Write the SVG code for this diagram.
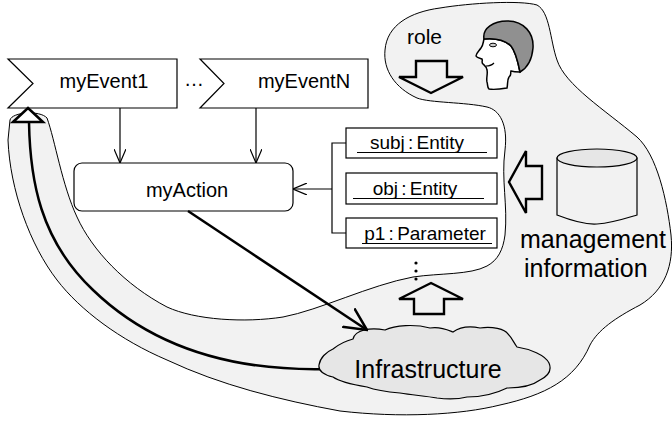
<svg xmlns="http://www.w3.org/2000/svg" width="672" height="422" viewBox="0 0 672 422">
  <style>
    .lbl { font-family: "Liberation Sans", Arial, sans-serif; font-size: 20px; fill: #000; }
    .big { font-size: 25px; }
    .attr { font-size: 19px; word-spacing: -2px; }
    .box { fill: #fff; stroke: #000; stroke-width: 1.2; }
    .thin { fill: none; stroke: #000; stroke-width: 1.2; }
    .bold { fill: none; stroke: #000; stroke-width: 2.5; }
    .block { fill: none; stroke: #000; stroke-width: 2.4; stroke-linejoin: miter; }
  </style>
  <defs>
    <marker id="open" viewBox="0 0 14 12" refX="14" refY="6" markerWidth="14" markerHeight="12" markerUnits="userSpaceOnUse" orient="auto">
      <path d="M0,0 L14,6 L0,12" fill="none" stroke="#000" stroke-width="1.2"/>
    </marker>
    <marker id="openBold" viewBox="0 0 24 24" refX="22.5" refY="12" markerWidth="24" markerHeight="24" markerUnits="userSpaceOnUse" orient="auto">
      <path d="M0,1 L22.5,12 L0,23" fill="none" stroke="#000" stroke-width="2.5"/>
    </marker>
  </defs>

  <!-- management domain: shaded region with the feedback band -->
  <g id="domain">
    <path d="M 10,120 C 12,112 40,110 47,118
             C 55,140 62,185 77,217
             C 92,250 125,285 167,307
             C 195,320 245,323 283,317
             C 320,310 370,285 413,277
             C 440,273 470,275 487,266
             C 498,260 503,250 505,235
             C 508,205 501,180 505,150
             C 508,125 500,110 487,107
             C 465,102 430,103 417,98
             C 395,88 383,70 385,50
             C 387,25 410,12 440,8
             C 470,3 520,0 537,5
             C 550,12 550,40 557,60
             C 565,85 605,110 637,137
             C 657,155 667,200 671,235
             C 674,265 665,290 640,305
             C 615,318 598,330 590,345
             C 575,380 545,395 500,405
             C 460,415 400,418 340,411
             C 280,400 220,385 167,360
             C 120,340 80,310 57,280
             C 30,245 10,190 8,140 Z"
          fill="#f2f2f2" stroke="#000" stroke-width="1"/>
  </g>

  <!-- role -->
  <g id="role">
    <text class="lbl" x="407" y="44" style="font-size:21px">role</text>
    <path class="block" d="M 416,61 L 447,61 L 447,77 L 463,77 L 431,93 L 399,77 L 416,77 Z"/>
    <!-- head in profile, facing left -->
    <path d="M 484,39 C 483,43 483,46 481,48 C 479,51 476,53 476,56 C 477,58 480,58 482,59 C 483,61 481,62 483,64 C 485,66 487,67 487,70 C 488,74 486,78 487,82 C 488,85 487,87 489,89 C 494,90 501,89 507,88 C 508,84 507,80 509,77 C 512,75 510,73 511,71 C 514,72 517,72 520,72 C 518,62 516,52 511,46 C 505,40 495,38 484,39 Z"
          fill="#fff" stroke="#000" stroke-width="1.5"/>
    <path d="M 484,39 C 482,28 494,21 507,21 C 524,21 534,33 533,48 C 532,60 527,68 520,72 C 518,62 516,52 511,46 C 505,40 495,38 484,39 Z"
          fill="#909090" stroke="#000" stroke-width="1.5"/>
    <ellipse cx="493" cy="45" rx="3.5" ry="1.8" fill="#ccc" stroke="#000" stroke-width="1"/>
    <path d="M 486,66 C 489,66 492,65 494,63" fill="none" stroke="#000" stroke-width="1.2"/>
  </g>

  <!-- management information -->
  <g id="management-information">
    <path d="M 557,158 L 557,215 C 570,220 585,225 597,224 C 612,223 627,218 637,215 L 637,158 Z" fill="#f2f2f2" stroke="#000" stroke-width="1.2"/>
    <ellipse cx="597" cy="158" rx="40" ry="9" fill="#e6e6e6" stroke="#000" stroke-width="1.2"/>
    <path class="block" d="M 509,182 L 526,151 L 526,166 L 542,166 L 542,199 L 526,199 L 526,213 Z"/>
    <text class="lbl big" x="520" y="248">management</text>
    <text class="lbl big" x="524" y="277">information</text>
  </g>

  <!-- feedback path from the infrastructure back to the event -->
  <g id="feedback">
    <path class="bold" d="M 29,122 C 30,180 40,240 93,290 C 150,345 230,372 330,369"/>
  </g>

  <!-- events -->
  <g id="myEvent1">
    <path class="box" d="M 8,59 L 177,59 L 177,108 L 8,108 L 33,83.5 Z"/>
    <text class="lbl" x="104" y="88" text-anchor="middle">myEvent1</text>
  </g>
  <text class="lbl" x="194" y="86" text-anchor="middle">…</text>
  <g id="myEventN">
    <path class="box" d="M 200,59 L 368,59 L 368,108 L 200,108 L 224,83.5 Z"/>
    <text class="lbl" x="304" y="88" text-anchor="middle">myEventN</text>
  </g>
  <path id="trigger" d="M 13,122 L 28,108 L 43,122 Z" fill="#fff" stroke="#000" stroke-width="2.5" stroke-linejoin="miter"/>

  <!-- action -->
  <g id="myAction">
    <rect class="box" x="74" y="163" width="219" height="48" rx="8"/>
    <text class="lbl" x="187" y="197" text-anchor="middle">myAction</text>
  </g>

  <!-- parameters -->
  <g id="subj">
    <rect class="box" x="346" y="128" width="151" height="30"/>
    <text class="lbl attr" x="417" y="149" text-anchor="middle">subj : Entity</text>
    <line class="thin" x1="357" y1="152.5" x2="487" y2="152.5"/>
  </g>
  <g id="obj">
    <rect class="box" x="346" y="173" width="151" height="31"/>
    <text class="lbl attr" x="415" y="195" text-anchor="middle">obj : Entity</text>
    <line class="thin" x1="353" y1="198.5" x2="484" y2="198.5"/>
  </g>
  <g id="p1">
    <rect class="box" x="346" y="218" width="151" height="30"/>
    <text class="lbl attr" x="425" y="240" text-anchor="middle">p1 : Parameter</text>
    <line class="thin" x1="362" y1="243.5" x2="492" y2="243.5"/>
  </g>
  <g id="more-parameters">
    <circle cx="416" cy="263" r="1.6"/>
    <circle cx="416" cy="271" r="1.6"/>
    <circle cx="416" cy="279" r="1.6"/>
  </g>
  <path id="provision" class="block" d="M 431,283 L 463,299 L 444,299 L 444,314 L 414,314 L 414,299 L 399,299 Z"/>

  <!-- infrastructure -->
  <g id="infrastructure">
    <path d="M 353,339 C 355,330 370,327 385,330 C 395,325 415,324 430,328 C 440,326 448,330 453,332 C 460,327 470,326 480,328 C 492,326 505,329 508,334 C 512,338 514,343 517,347 C 530,349 545,355 549,363 C 552,370 548,376 540,380 C 532,386 520,388 507,388 C 495,394 480,397 467,397 C 455,400 445,399 437,398 C 425,396 412,395 400,393 C 388,392 375,390 367,387 C 355,385 340,382 333,377 C 325,375 318,372 319,365 C 320,358 326,352 333,349 C 338,345 345,341 353,339 Z"
          fill="#e6e6e6" stroke="#000" stroke-width="1.2"/>
    <text class="lbl big" x="428" y="378" text-anchor="middle">Infrastructure</text>
  </g>

  <!-- connectors -->
  <g id="connectors">
    <line class="thin" x1="120" y1="108" x2="120" y2="163" marker-end="url(#open)"/>
    <line class="thin" x1="256" y1="108" x2="256" y2="163" marker-end="url(#open)"/>
    <path class="thin" d="M 346,143 L 332,143 L 332,233 L 346,233"/>
    <line class="thin" x1="332" y1="189" x2="293" y2="189" marker-end="url(#open)"/>
    <line class="bold" x1="188" y1="211" x2="367" y2="330" marker-end="url(#openBold)"/>
  </g>
</svg>
